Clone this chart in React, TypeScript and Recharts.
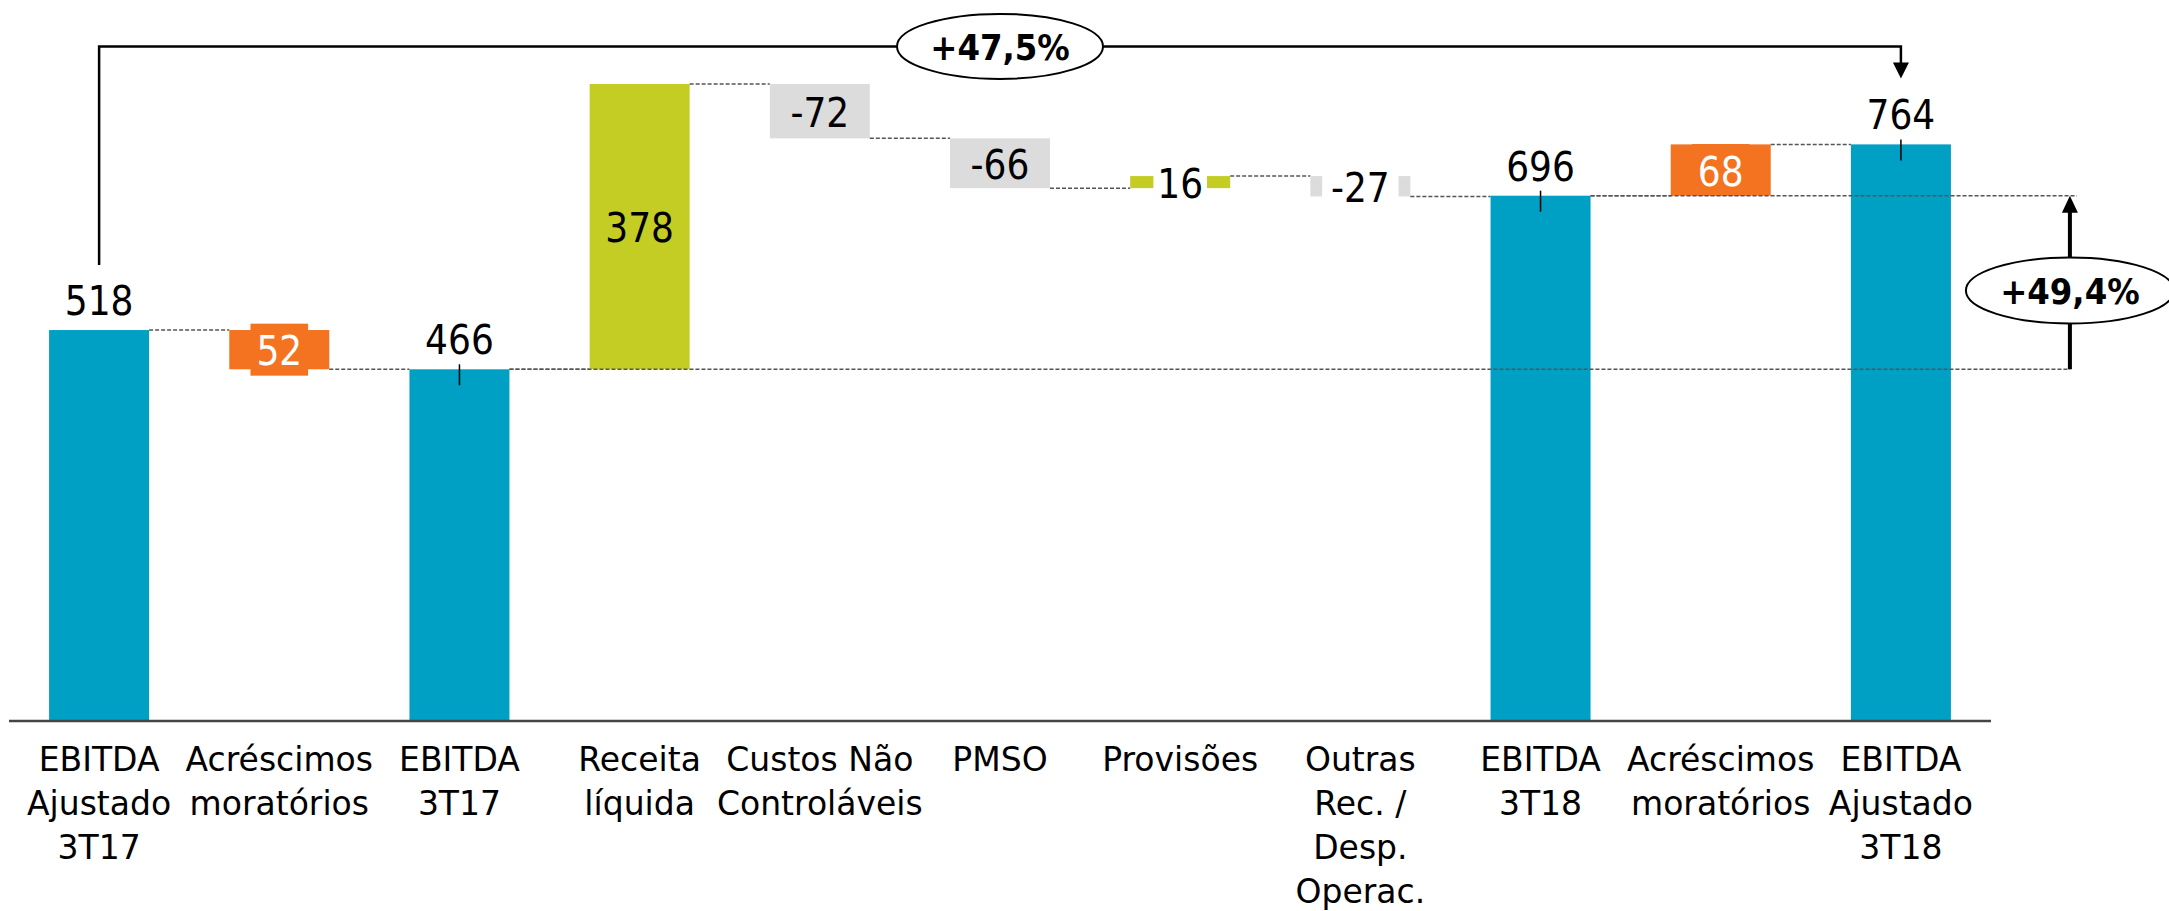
import { Bar, BarChart, XAxis, YAxis } from "recharts"

const categories = [
  "EBITDA\nAjustado\n3T17",
  "Acréscimos\nmoratórios",
  "EBITDA\n3T17",
  "Receita\nlíquida",
  "Custos Não\nControláveis",
  "PMSO",
  "Provisões",
  "Outras\nRec. /\nDesp.\nOperac.",
  "EBITDA\n3T18",
  "Acréscimos\nmoratórios",
  "EBITDA\nAjustado\n3T18",
]

const values = [518, -52, 466, 378, -72, -66, 16, -27, 696, 68, 764]

// total = bar from zero, adjust = orange step, delta = green / grey step
const kinds = ["total", "adjust", "total", "delta", "delta", "delta", "delta", "delta", "total", "adjust", "total"]

const colors = {
  total: "#00A0C4",
  adjust: "#F37321",
  up: "#C3CD23",
  down: "#DCDCDC",
}

const GAP = 0.2225
const valueFont = "'DejaVu Sans Condensed', 'DejaVu Sans', sans-serif"
const tickFont = "'DejaVu Sans', sans-serif"

type Row = {
  name: string
  kind: string
  value: number
  range: [number, number]
  end: number
  label: string
}

const rows: Row[] = (() => {
  let running = 0
  return categories.map((name, i) => {
    const v = values[i]
    const kind = kinds[i]
    if (kind === "total") {
      running = v
      return { name, kind, value: v, range: [0, v] as [number, number], end: v, label: String(v) }
    }
    const start = running
    const end = running + v
    running = end
    return {
      name,
      kind,
      value: v,
      range: [Math.min(start, end), Math.max(start, end)] as [number, number],
      end,
      label: kind === "adjust" ? String(Math.abs(v)) : String(v),
    }
  })
})()

const totals = rows.map((r, i) => ({ ...r, i })).filter((r) => r.kind === "total")

function pct(a: number, b: number) {
  return "+" + ((b / a - 1) * 100).toFixed(1).replace(".", ",") + "%"
}

const dash = { stroke: "#555", strokeWidth: 1.5, strokeDasharray: "4 2" }

function Annotations({ x, width, yOf }: { x: number; width: number; yOf: (v: number) => number }) {
  const step = width / (1 - 2 * GAP)
  const centerOf = (i: number) => x + width / 2 - (rows.length - 1 - i) * step
  const first = totals[0]
  const last = totals[totals.length - 1]
  const base = totals[1]
  const target = totals[2]

  const firstX = centerOf(first.i)
  const lastX = centerOf(last.i)
  const lastTop = yOf(last.value)
  const bracketY = lastTop - 98
  const tipY = lastTop - 66

  const arrowX = x + width + 119
  const yBase = yOf(base.value)
  const yTarget = yOf(target.value)

  return (
    <g>
      {/* +47,5% bracket */}
      <polyline
        points={`${firstX},${yOf(first.value) - 65} ${firstX},${bracketY} ${lastX},${bracketY} ${lastX},${tipY - 14}`}
        fill="none"
        stroke="#000"
        strokeWidth={2.5}
      />
      <polygon points={`${lastX - 8},${tipY - 16} ${lastX + 8},${tipY - 16} ${lastX},${tipY}`} fill="#000" />
      <ellipse cx={(firstX + lastX) / 2} cy={bracketY} rx={103} ry={32.5} fill="#fff" stroke="#000" strokeWidth={2} />
      <text
        x={(firstX + lastX) / 2}
        y={bracketY + 14}
        textAnchor="middle"
        fontFamily={valueFont}
        fontStretch="condensed"
        fontWeight="bold"
        fontSize={36}
      >
        {pct(first.value, last.value)}
      </text>

      {/* +49,4% arrow */}
      <line x1={centerOf(base.i) + width / 2} x2={arrowX} y1={yBase} y2={yBase} {...dash} />
      <line x1={centerOf(target.i) + width / 2} x2={arrowX + 7} y1={yTarget} y2={yTarget} {...dash} />
      <line x1={arrowX} x2={arrowX} y1={yBase} y2={yTarget + 14} stroke="#000" strokeWidth={4} />
      <polygon
        points={`${arrowX - 8},${yTarget + 17} ${arrowX + 8},${yTarget + 17} ${arrowX},${yTarget}`}
        fill="#000"
      />
      <ellipse
        cx={arrowX}
        cy={(yBase + yTarget) / 2 + 8}
        rx={104}
        ry={33}
        fill="#fff"
        stroke="#000"
        strokeWidth={2}
      />
      <text
        x={arrowX}
        y={(yBase + yTarget) / 2 + 22}
        textAnchor="middle"
        fontFamily={valueFont}
        fontStretch="condensed"
        fontWeight="bold"
        fontSize={36}
      >
        {pct(base.value, target.value)}
      </text>
    </g>
  )
}

function WaterfallBar(props: any) {
  const { x, y, width, height, payload, index } = props
  const row = payload as Row
  const [lo, hi] = row.range
  const ppu = height / (hi - lo || 1)
  const zero = y + height + lo * ppu
  const yOf = (v: number) => zero - v * ppu
  const cx = x + width / 2
  const midY = y + height / 2
  const gapPx = (width * 2 * GAP) / (1 - 2 * GAP)

  let fill = colors.total
  if (row.kind === "adjust") fill = colors.adjust
  else if (row.kind === "delta") fill = row.value > 0 ? colors.up : colors.down

  const textW = row.label.length * 22.8
  const textProps = {
    fontFamily: valueFont,
    fontStretch: "condensed",
    fontSize: 40,
    textAnchor: "middle" as const,
  }

  return (
    <g>
      <rect x={x} y={y} width={width} height={height} fill={fill} />
      {index < rows.length - 1 && (
        <line x1={x + width} x2={x + width + gapPx} y1={yOf(row.end)} y2={yOf(row.end)} {...dash} />
      )}

      {row.kind === "total" && (
        <g>
          <text x={cx} y={y - 15} fill="#000" {...textProps}>
            {row.label}
          </text>
          {index > 0 && <line x1={cx} x2={cx} y1={y - 5} y2={y + 16} stroke="#000" strokeWidth={1.5} />}
        </g>
      )}

      {row.kind === "adjust" && (
        <g>
          <rect x={cx - (textW + 12) / 2} y={midY - 26} width={textW + 12} height={52} fill={colors.adjust} />
          <text x={cx} y={midY + 15.5} fill="#fff" {...textProps}>
            {row.label}
          </text>
        </g>
      )}

      {row.kind === "delta" && (
        <g>
          {height < 44 && <rect x={cx - (textW + 8) / 2} y={midY - 22} width={textW + 8} height={44} fill="#fff" />}
          <text x={cx} y={midY + 15.5} fill="#000" {...textProps}>
            {row.label}
          </text>
        </g>
      )}

      {index === rows.length - 1 && <Annotations x={x} width={width} yOf={yOf} />}
    </g>
  )
}

function CategoryTick({ x, y, payload }: any) {
  const lines = String(payload.value).split("\n")
  return (
    <text x={x} y={y} textAnchor="middle" fontFamily={tickFont} fontSize={33} fill="#000">
      {lines.map((line, i) => (
        <tspan key={i} x={x} dy={i === 0 ? 50 : 44}>
          {line}
        </tspan>
      ))}
    </text>
  )
}

export default function App() {
  return (
    <div style={{ position: "absolute", left: 0, top: 0, width: 2169, height: 911, background: "#fff" }}>
      <BarChart
        width={2169}
        height={911}
        data={rows}
        margin={{ top: 4, right: 178, left: 9, bottom: 0 }}
        barCategoryGap="22.25%"
      >
        <XAxis
          dataKey="name"
          interval={0}
          height={190}
          tickLine={false}
          tickSize={0}
          tickMargin={0}
          axisLine={{ stroke: "#444", strokeWidth: 2.5 }}
          tick={<CategoryTick />}
        />
        <YAxis hide domain={[0, 950]} />
        <Bar dataKey="range" shape={WaterfallBar} isAnimationActive={false} />
      </BarChart>
    </div>
  )
}
